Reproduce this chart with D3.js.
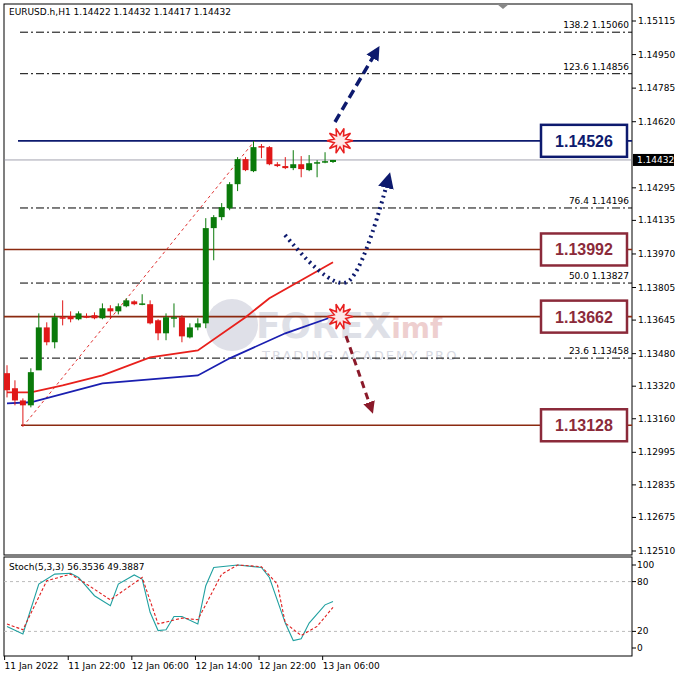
<!DOCTYPE html>
<html>
<head>
<script src="https://cdn.jsdelivr.net/npm/d3@7"></script>
<style>body{margin:0;background:#fff}</style>
</head>
<body>
<svg width="678" height="678" id="mainsvg"></svg>
<script>
// candles [open, high, low, close], H1 from 11 Jan 14:00
const candles = [
 [1.13384,1.13423,1.13265,1.13300],[1.13310,1.13349,1.13226,1.13250],[1.13250,1.13260,1.13122,1.13226],
 [1.13226,1.13408,1.13216,1.13389],[1.13398,1.13678,1.13408,1.13609],[1.13609,1.13634,1.13521,1.13536],
 [1.13536,1.13678,1.13506,1.13659],[1.13659,1.13742,1.13619,1.13654],[1.13664,1.13688,1.13634,1.13649],
 [1.13649,1.13688,1.13644,1.13678],[1.13664,1.13678,1.13654,1.13659],[1.13669,1.13683,1.13649,1.13654],
 [1.13654,1.13727,1.13649,1.13703],[1.13703,1.13718,1.13654,1.13688],[1.13688,1.13727,1.13673,1.13713],
 [1.13713,1.13752,1.13708,1.13742],[1.13737,1.13742,1.13718,1.13723],[1.13723,1.13772,1.13718,1.13727],
 [1.13723,1.13742,1.13624,1.13629],[1.13644,1.13649,1.13546,1.13580],[1.13580,1.13678,1.13546,1.13659],
 [1.13654,1.13727,1.13609,1.13659],[1.13659,1.13669,1.13536,1.13565],[1.13560,1.13629,1.13555,1.13609],
 [1.13609,1.13654,1.13595,1.13629],[1.13629,1.14146,1.13605,1.14097],[1.14097,1.14161,1.13939,1.14151],
 [1.14151,1.14220,1.14136,1.14200],[1.14195,1.14323,1.14185,1.14313],[1.14313,1.14446,1.14279,1.14436],
 [1.14436,1.14446,1.14377,1.14382],[1.14377,1.14525,1.14372,1.14495],[1.14500,1.14510,1.14441,1.14495],
 [1.14495,1.14500,1.14406,1.14411],[1.14411,1.14421,1.14397,1.14402],[1.14402,1.14446,1.14387,1.14392],
 [1.14392,1.14480,1.14382,1.14411],[1.14411,1.14451,1.14347,1.14387],[1.14382,1.14456,1.14377,1.14416],
 [1.14416,1.14431,1.14347,1.14421],[1.14421,1.14470,1.14416,1.14426],[1.14422,1.14432,1.14417,1.14432]
];
const maRed = [[0,1.13290],[3,1.13290],[7,1.13324],[12,1.13373],[18,1.13462],[24,1.13496],[30,1.13659],[33,1.13752],[41,1.13929]];
const maBlue = [[0,1.13236],[3,1.13241],[12,1.13334],[24,1.13373],[28,1.13457],[35,1.13580],[40.4,1.13654]];
const fibs = [["138.2",1.15060],["123.6",1.14856],["76.4",1.14196],["50.0",1.13827],["23.6",1.13458]];
const levels = [{v:1.14526,c:"#0d1a6e",x0:18},{v:1.13992,c:"#8b2a10",x0:4},{v:1.13662,c:"#8b2a10",x0:4},{v:1.13128,c:"#8b2a10",x0:21}];
const priceTicks = [1.15115,1.14950,1.14785,1.14620,1.14295,1.14135,1.13970,1.13805,1.13645,1.13480,1.13320,1.13160,1.12995,1.12835,1.12675,1.12510];
const current = 1.14432;
const stochK = [[0,26],[2,17],[4,77],[6,89],[8,90],[9,85],[11,63],[13,51],[14,77],[16,88],[17,83],[18,43],[19,21],[20,22],[21,38],[22,38],[24,29],[25,75],[26,97],[29,100],[32,97],[33,85],[35,30],[36,9],[37,11],[38,30],[40,52],[41,56]];
const stochD = [[0,29],[2,22],[5,81],[8,89],[10,77],[13,58],[17,85],[19,29],[22,36],[24,34],[27,89],[29,100],[32,98],[34,77],[35,30],[37,15],[39,26],[41,49]];
const timeLabels = [[-0.3,"11 Jan 2022"],[7.7,"11 Jan 22:00"],[15.7,"12 Jan 06:00"],[23.7,"12 Jan 14:00"],[31.7,"12 Jan 22:00"],[39.7,"13 Jan 06:00"]];

const svg = d3.select('#mainsvg');
const font = 'Tahoma, "DejaVu Sans", sans-serif';
const x = d3.scaleLinear().domain([0, 41]).range([7, 333]);
const y = d3.scaleLinear().domain([1.12510, 1.15115]).range([551, 21]);
const ys = d3.scaleLinear().domain([0, 100]).range([648, 565]);
const R = 632;

// frames
svg.append('rect').attr('x',4).attr('y',4).attr('width',R-4).attr('height',551).attr('fill','#fff').attr('stroke','#000');
svg.append('rect').attr('x',4).attr('y',557).attr('width',R-4).attr('height',99).attr('fill','#fff').attr('stroke','#000');
svg.append('path').attr('d','M497,4 L509,4 L503,9 Z').attr('fill','#888');

// watermark
svg.append('circle').attr('cx',232).attr('cy',325).attr('r',26).attr('fill','#c9ccd8').attr('opacity',0.6);
const wm = svg.append('text').attr('x',256).attr('y',338).attr('font-family',font).attr('font-weight','bold').attr('opacity',0.6);
wm.append('tspan').attr('font-size',36).attr('fill','#c9ccd8').text('FOREX');
wm.append('tspan').attr('font-size',28).attr('fill','#e4b0b0').text('imf');
svg.append('text').attr('x',262).attr('y',360).text('TRADING ACADEMY PRO').attr('font-family',font).attr('font-size',13).attr('letter-spacing',2).attr('fill','#d8dae3');

// fib lines
fibs.forEach(([lab, v]) => {
  svg.append('line').attr('x1',20).attr('x2',R).attr('y1',y(v)).attr('y2',y(v)).attr('stroke','#000').attr('stroke-dasharray','8,3,2,3');
  svg.append('text').attr('x',629).attr('y',y(v)-4).attr('text-anchor','end').attr('font-family',font).attr('font-size',9).text(lab + '  ' + v.toFixed(5));
});
// levels
levels.forEach(l => {
  svg.append('line').attr('x1',l.x0).attr('x2',R).attr('y1',y(l.v)).attr('y2',y(l.v)).attr('stroke',l.c).attr('stroke-width',1.6);
});
svg.append('line').attr('x1',4).attr('x2',R).attr('y1',y(current)).attr('y2',y(current)).attr('stroke','#8a8a9a').attr('stroke-width',0.8);
// fib swing line
svg.append('line').attr('x1',x(2)).attr('y1',y(1.13122)).attr('x2',x(31)+1).attr('y2',y(1.14525)).attr('stroke','#e03030').attr('stroke-dasharray','3,3');

// MAs
const maLine = d3.line().x(d => x(d[0])).y(d => y(d[1]));
svg.append('path').attr('d',maLine(maRed)).attr('fill','none').attr('stroke','#e8201c').attr('stroke-width',1.8);
svg.append('path').attr('d',maLine(maBlue)).attr('fill','none').attr('stroke','#1a1fb0').attr('stroke-width',1.8);

// candles
const cg = svg.append('g');
candles.forEach((c, i) => {
  const [o, h, l, cl] = c;
  const up = cl >= o;
  const col = up ? '#0a7a0a' : '#e01818';
  cg.append('line').attr('x1',x(i)).attr('x2',x(i)).attr('y1',y(h)).attr('y2',y(l)).attr('stroke', Math.abs(cl-o) < 0.00004 ? '#0a7a0a' : col);
  const top = y(Math.max(o, cl)), bot = y(Math.min(o, cl));
  cg.append('rect').attr('x',x(i)-3).attr('y',top).attr('width',6).attr('height',Math.max(1.5, bot-top)).attr('fill',col);
});

// arrows
const defs = svg.append('defs');
[['ahNavy','#0d1a6e'],['ahRed','#8b1a2a']].forEach(([id,c]) => {
  defs.append('marker').attr('id',id).attr('viewBox','0 0 10 10').attr('refX',5).attr('refY',5)
    .attr('markerWidth',4).attr('markerHeight',4).attr('orient','auto')
    .append('path').attr('d','M0,0 L10,5 L0,10 Z').attr('fill',c);
});
svg.append('line').attr('x1',335).attr('y1',122).attr('x2',376).attr('y2',52).attr('stroke','#0d1a6e').attr('stroke-width',3.5).attr('stroke-dasharray','9,5').attr('marker-end','url(#ahNavy)');
svg.append('path').attr('d','M285,235 Q335,295 350,280 T388,180').attr('fill','none').attr('stroke','#0d1a6e').attr('stroke-width',4).attr('stroke-dasharray','2,4').attr('marker-end','url(#ahNavy)');
svg.append('line').attr('x1',346).attr('y1',336).attr('x2',371).attr('y2',408).attr('stroke','#8b1a2a').attr('stroke-width',3).attr('stroke-dasharray','7,5').attr('marker-end','url(#ahRed)');

// star bursts
function star(cx, cy) {
  const pts = d3.range(20).map(k => { const r = k % 2 ? 6 : 13; const a = k * Math.PI / 10; return [cx + r*Math.cos(a), cy + r*Math.sin(a)]; });
  svg.append('path').attr('d', d3.line()(pts) + 'Z').attr('fill','#fde8e8').attr('stroke','#e82020').attr('stroke-width',1.5);
}
star(340, y(1.14526)); star(340, y(1.13662));

// level boxes
[[1.14526,'#0d1a6e'],[1.13992,'#8b2a3a'],[1.13662,'#8b2a3a'],[1.13128,'#8b2a3a']].forEach(([v,c]) => {
  svg.append('rect').attr('x',541).attr('y',y(v)-16).attr('width',86).attr('height',32).attr('fill','#fff').attr('stroke',c).attr('stroke-width',2.5);
  svg.append('text').attr('x',584).attr('y',y(v)+6).attr('text-anchor','middle').attr('font-family','Arial, "Liberation Sans", sans-serif').attr('font-weight','bold').attr('font-size',16).attr('fill',c).text(v.toFixed(5));
});

// price axis
priceTicks.forEach(v => {
  svg.append('line').attr('x1',R).attr('x2',R+4).attr('y1',y(v)).attr('y2',y(v)).attr('stroke','#000');
  svg.append('text').attr('x',R+6).attr('y',y(v)+3).attr('font-family',font).attr('font-size',9).text(v.toFixed(5));
});
svg.append('rect').attr('x',R+1).attr('y',y(current)-6).attr('width',41).attr('height',12).attr('fill','#000');
svg.append('text').attr('x',R+5).attr('y',y(current)+3).attr('font-family',font).attr('font-size',9).attr('fill','#fff').text(current.toFixed(5));

// header
svg.append('text').attr('x',9).attr('y',15).attr('font-family',font).attr('font-size',9).text('EURUSD.h,H1  1.14422 1.14432 1.14417 1.14432');

// stochastic
[80, 20].forEach(v => svg.append('line').attr('x1',4).attr('x2',R).attr('y1',ys(v)).attr('y2',ys(v)).attr('stroke','#bbb').attr('stroke-dasharray','3,3'));
const sLine = d3.line().x(d => x(d[0])).y(d => ys(d[1]));
svg.append('path').attr('d',sLine(stochK)).attr('fill','none').attr('stroke','#20a0a0').attr('stroke-width',1.1);
svg.append('path').attr('d',sLine(stochD)).attr('fill','none').attr('stroke','#e02020').attr('stroke-width',1.1).attr('stroke-dasharray','3,2');
svg.append('text').attr('x',9).attr('y',570).attr('font-family',font).attr('font-size',9).text('Stoch(5,3,3) 56.3536 49.3887');
[100, 80, 20, 0].forEach(v => {
  svg.append('line').attr('x1',R).attr('x2',R+4).attr('y1',ys(v)).attr('y2',ys(v)).attr('stroke','#000');
  svg.append('text').attr('x',R+5).attr('y',ys(v)+3).attr('font-family',font).attr('font-size',9).text(v);
});

// time axis
timeLabels.forEach(([i, t]) => {
  svg.append('line').attr('x1',x(i)).attr('x2',x(i)).attr('y1',656).attr('y2',660).attr('stroke','#000');
  svg.append('text').attr('x',x(i)).attr('y',669).attr('font-family',font).attr('font-size',9).text(t);
});
</script>
</body>
</html>
